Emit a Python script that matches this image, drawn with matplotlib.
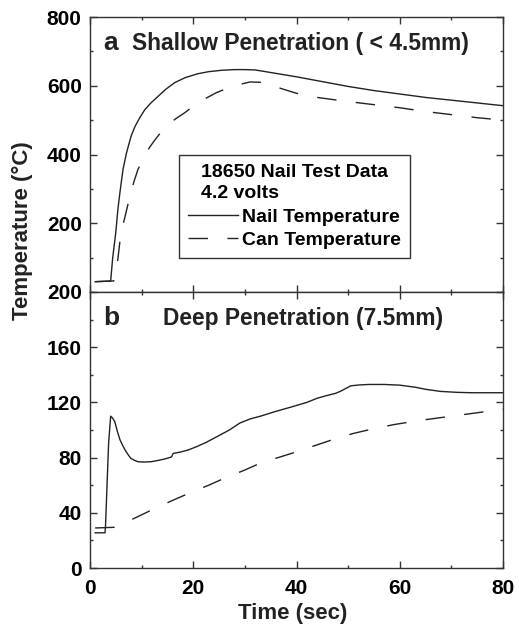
import matplotlib
matplotlib.use("Agg")
import matplotlib.pyplot as plt
from matplotlib.ticker import MultipleLocator

plt.rcParams['font.family'] = ['Liberation Sans', 'DejaVu Sans']
plt.rcParams['font.weight'] = 'bold'

# shallow penetration (< 4.5 mm)
shallow_t_nail = [1, 4.0, 4.4, 5.0, 5.4, 5.8, 6.4, 7.0, 7.4, 8.0, 8.7, 9.6, 10.6, 11.8,
                  13.1, 14.7, 16.4, 18.5, 20.9, 23, 25.5, 28, 30, 32, 34, 36, 40, 45,
                  50, 55, 60, 65, 70, 75, 80]
shallow_nail = [30, 32, 100, 174, 240, 290, 357, 400, 423, 455, 481, 506, 530, 550,
                568, 590, 609, 624, 635, 641, 645, 647, 647, 646, 641, 636, 626, 612,
                598, 586, 576, 566, 558, 550, 542]
shallow_t_can = [1, 4.6, 5.0, 5.4, 6.0, 6.8, 7.9, 8.6, 9.3, 10.6, 11.5, 12.6, 13.8, 15.1,
                 16.7, 18.4, 19.8, 21.3, 23, 24.5, 26.5, 28.5, 31, 33, 35, 37, 40, 43,
                 47, 50, 55, 60, 65, 70, 75, 80]
shallow_can = [30, 32, 60, 96, 174, 220, 290, 325, 357, 394, 420, 443, 466, 487,
               505, 522, 538, 554, 568, 580, 592, 602, 611, 610, 603, 592, 578, 568,
               560, 554, 545, 536, 525, 516, 507, 500]

# deep penetration (7.5 mm)
deep_t_nail = [1, 2.9, 3.0, 3.6, 4.0, 4.4, 4.8, 5.3, 5.8, 6.3, 6.8, 7.4, 7.9, 8.6, 9.3,
               10.5, 11.8, 13, 14.5, 15.8, 16.1, 17.5, 19, 20.7, 22.5, 25, 27, 29, 31,
               33, 36, 39.3, 42, 44, 45.9, 47.5, 48.5, 49.5, 50.5, 52, 54, 57, 60, 63,
               65, 67.8, 71, 74, 80]
deep_nail = [25.5, 25.5, 30, 90, 110, 108.5, 106, 99, 93, 89, 85.5, 82, 79.5, 78, 77,
             76.8, 77, 77.8, 79, 80.5, 83, 84, 85.5, 88, 91, 96, 100, 105, 108,
             110, 113.5, 117, 120, 123, 125, 126.5, 128, 130, 132, 132.6, 133, 133, 132.5, 131,
             129.5, 128, 127.3, 127, 127]
deep_t_can = [1, 4.8, 8.3, 12.2, 16, 20, 23, 26, 30, 33, 36, 39, 43, 47, 51, 55, 59,
              64, 68, 72, 76, 80]
deep_can = [29, 29.5, 35.5, 42.5, 49, 55.5, 60, 65, 71, 76, 79.5, 83, 88, 93, 97.5, 101, 104,
            107, 109, 111, 113, 115]

W, H = 519, 627
fig = plt.figure(figsize=(W / 100, H / 100), dpi=100)
left, right = 90 / W, 503 / W
ax_a = fig.add_axes([left, 1 - 292 / H, right - left, 275 / H])
ax_b = fig.add_axes([left, 1 - 568 / H, right - left, 276 / H])

ink = '#222222'
dash = (0, (14, 14))

for ax in (ax_a, ax_b):
    ax.set_xlim(0, 80)
    ax.xaxis.set_major_locator(MultipleLocator(20))
    ax.xaxis.set_minor_locator(MultipleLocator(10))
    ax.tick_params(which='both', direction='in', top=True, right=True,
                   color='#333333', width=1.0)
    ax.tick_params(which='major', length=5, labelsize=15, pad=6)
    ax.tick_params(which='minor', length=2.5)
    for s in ax.spines.values():
        s.set_color('#333333')
        s.set_linewidth(1.0)

ax_a.plot(shallow_t_nail, shallow_nail, color=ink, lw=1.0, label='Nail Temperature')
ax_a.plot(shallow_t_can, shallow_can, color=ink, lw=1.0, ls=dash, label='Can Temperature')
ax_a.set_ylim(0, 800)
ax_a.set_yticks([200, 400, 600, 800])
ax_a.yaxis.set_minor_locator(MultipleLocator(100))
ax_a.tick_params(axis='x', labelbottom=False)

ax_b.plot(deep_t_nail, deep_nail, color=ink, lw=1.0)
ax_b.plot(deep_t_can, deep_can, color=ink, lw=1.0, ls=dash)
ax_b.set_ylim(0, 200)
ax_b.yaxis.set_major_locator(MultipleLocator(40))
ax_b.yaxis.set_minor_locator(MultipleLocator(20))
ax_b.tick_params(axis='x', pad=8)

# panel tags and titles
ax_a.text(0.031, 0.88, 'a', transform=ax_a.transAxes, fontsize=19, fontweight='bold', color=ink)
ax_a.text(0.102, 0.88, 'Shallow Penetration ( < 4.5mm)', transform=ax_a.transAxes,
          fontsize=16.4, fontweight='bold', color=ink)
ax_b.text(0.031, 0.88, 'b', transform=ax_b.transAxes, fontsize=19, fontweight='bold', color=ink)
ax_b.text(0.177, 0.88, 'Deep Penetration (7.5mm)', transform=ax_b.transAxes,
          fontsize=16.4, fontweight='bold', color=ink)

leg = ax_a.legend(title='18650 Nail Test Data\n4.2 volts', loc='upper left',
                  bbox_to_anchor=(0.216, 0.498), borderaxespad=0,
                  prop={'size': 14, 'weight': 'bold'}, title_fontproperties={'size': 14, 'weight': 'bold'},
                  fancybox=False, framealpha=1, edgecolor='#333333',
                  handlelength=2.55, handletextpad=0.25, borderpad=0.45,
                  labelspacing=0.3)
leg.get_frame().set_linewidth(1.0)
leg.get_title().set_linespacing(1.35)

fig.text(22 / W, 1 - 231 / H, 'Temperature (\u00b0C)', rotation=90, ha='center', va='center',
         fontsize=16, fontweight='bold', color=ink)
fig.text(293 / W, 1 - 613 / H, 'Time (sec)', ha='center', va='center',
         fontsize=16, fontweight='bold', color=ink)

fig.savefig('out.png', dpi=100)
